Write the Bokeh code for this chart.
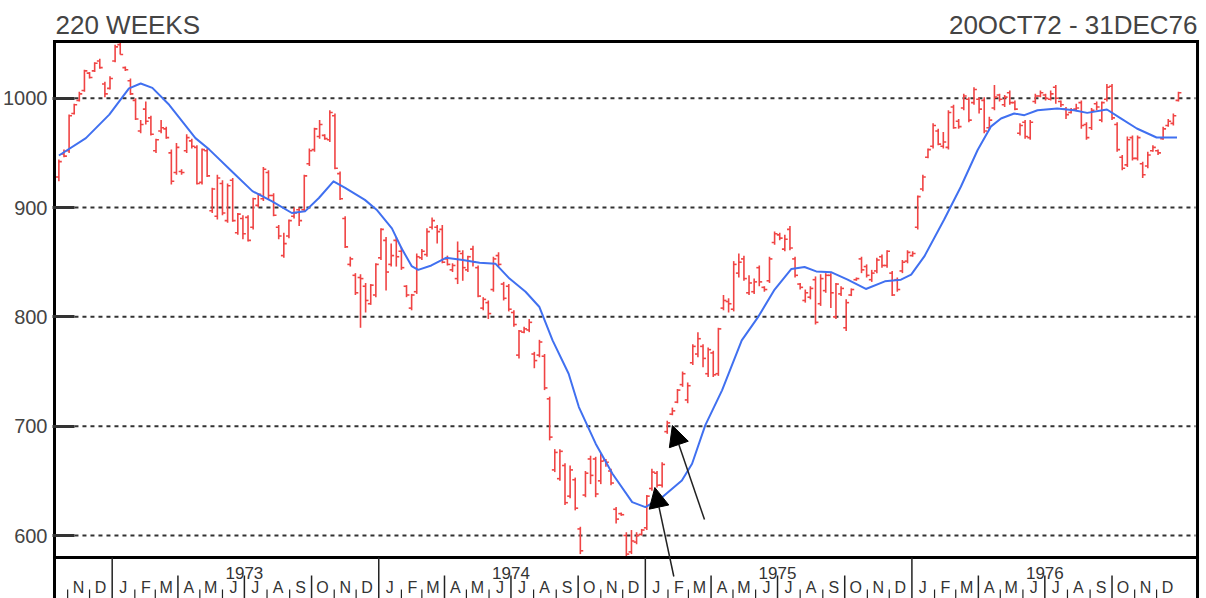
import pandas as pd
from bokeh.plotting import figure
from bokeh.models import (Range1d, Label, Arrow, NormalHead, FixedTicker,
                          ColumnDataSource)
from bokeh.core.properties import value
from bokeh.embed import file_html
from bokeh.resources import INLINE

# ---------------- data ----------------
week_start = "1972-10-20"

high = [
    944, 953, 985, 995, 1006, 1026, 1024, 1033, 1036, 1015,
    1020, 1049, 1051, 1029, 1018, 1000, 980, 997, 984, 963,
    980, 974, 953, 959, 935, 967, 963, 957, 954, 954,
    918, 930, 925, 922, 927, 895, 893, 893, 909, 913,
    937, 934, 913, 884, 877, 889, 900, 900, 930, 954,
    973, 980, 967, 989, 986, 933, 892, 855, 840, 839,
    831, 830, 849, 881, 873, 867, 873, 864, 829, 821,
    858, 862, 881, 891, 884, 884, 856, 849, 869, 861,
    856, 865, 847, 818, 815, 855, 859, 832, 830, 806,
    788, 791, 798, 768, 779, 766, 727, 679, 679, 666,
    664, 653, 608, 659, 673, 672, 675, 670, 661, 626,
    621, 603, 605, 603, 606, 637, 661, 659, 667, 705,
    717, 734, 750, 740, 775, 786, 775, 772, 769, 790,
    820, 817, 851, 858, 856, 838, 835, 847, 828, 855,
    878, 877, 875, 883, 855, 831, 825, 828, 837, 839,
    840, 840, 831, 828, 816, 826, 836, 855, 848, 843,
    854, 857, 861, 842, 836, 852, 861, 860, 911, 930,
    954, 977, 972, 969, 989, 994, 981, 1004, 1001, 1010,
    1001, 1001, 983, 1012, 1004, 1003, 1007, 998, 977, 980,
    980, 1004, 1007, 1004, 1007, 1012, 998, 992, 991, 995,
    998, 978, 991, 997, 997, 1013, 1013, 978, 948, 965,
    966, 966, 942, 951, 957, 953, 974, 981, 986, 1006]

low = [
    924, 946, 950, 985, 997, 1006, 1018, 1024, 1027, 1001,
    1008, 1033, 1040, 1025, 1003, 980, 968, 976, 966, 950,
    968, 963, 921, 930, 930, 950, 954, 921, 921, 928,
    895, 889, 893, 886, 887, 875, 871, 869, 880, 900,
    906, 907, 892, 871, 854, 872, 890, 883, 896, 938,
    951, 963, 962, 960, 935, 907, 863, 846, 820, 790,
    804, 811, 818, 852, 824, 846, 846, 843, 818, 806,
    821, 852, 855, 880, 867, 849, 847, 841, 830, 833,
    841, 846, 818, 806, 798, 823, 846, 815, 805, 791,
    762, 785, 786, 753, 763, 733, 687, 658, 650, 628,
    634, 623, 583, 635, 647, 635, 647, 663, 646, 611,
    618, 580, 583, 592, 600, 605, 641, 644, 644, 693,
    710, 721, 736, 721, 756, 763, 754, 745, 745, 746,
    806, 804, 805, 836, 833, 820, 821, 828, 823, 831,
    866, 870, 860, 861, 836, 825, 813, 816, 793, 810,
    822, 808, 798, 819, 787, 819, 833, 840, 836, 832,
    840, 845, 845, 819, 823, 840, 849, 855, 880, 915,
    945, 954, 957, 954, 953, 972, 972, 989, 978, 994,
    986, 968, 971, 989, 997, 992, 994, 989, 966, 963,
    962, 995, 1001, 998, 998, 995, 992, 981, 986, 988,
    972, 962, 971, 989, 978, 997, 980, 951, 934, 937,
    943, 943, 927, 936, 951, 948, 962, 974, 975, 997]

close = [
    942, 947, 984, 994, 1004, 1025, 1019, 1032, 1028, 1004,
    1018, 1047, 1040, 1026, 1004, 981, 976, 979, 967, 962,
    973, 964, 924, 955, 932, 964, 956, 922, 953, 929,
    917, 927, 895, 920, 888, 894, 876, 870, 908, 912,
    935, 911, 893, 874, 867, 888, 895, 888, 929, 952,
    972, 976, 963, 987, 936, 908, 864, 853, 822, 835,
    815, 829, 848, 880, 841, 856, 855, 845, 820, 820,
    855, 860, 878, 888, 878, 850, 848, 847, 860, 845,
    855, 850, 819, 816, 803, 853, 848, 817, 807, 793,
    787, 789, 795, 760, 777, 735, 690, 676, 677, 630,
    660, 625, 586, 657, 655, 638, 668, 667, 648, 615,
    619, 583, 595, 600, 605, 636, 658, 646, 665, 703,
    714, 733, 748, 737, 773, 780, 762, 770, 747, 789,
    815, 812, 848, 850, 835, 831, 832, 832, 825, 853,
    876, 872, 871, 863, 838, 827, 822, 826, 795, 835,
    838, 822, 830, 826, 813, 825, 835, 843, 838, 840,
    852, 847, 860, 820, 825, 850, 859, 858, 910, 928,
    953, 975, 958, 960, 987, 973, 974, 1002, 980, 1008,
    990, 970, 980, 1001, 999, 1001, 996, 990, 975, 965,
    978, 1002, 1005, 1000, 1004, 1000, 994, 985, 989, 991,
    975, 964, 989, 992, 996, 1010, 982, 953, 936, 962,
    945, 964, 930, 948, 955, 950, 972, 979, 984, 1005]

open_ = [
    928, 949, 952, 986, 998, 1007, 1023, 1025, 1034, 1013,
    1009, 1034, 1049, 1028, 1016, 998, 970, 990, 982, 952,
    970, 972, 950, 932, 933, 952, 961, 955, 923, 952,
    897, 892, 922, 888, 925, 877, 890, 891, 882, 902,
    908, 932, 911, 882, 856, 874, 892, 898, 898, 940,
    953, 965, 966, 962, 984, 931, 890, 848, 838, 836,
    828, 812, 820, 854, 870, 848, 870, 860, 828, 808,
    823, 854, 857, 882, 882, 880, 853, 843, 835, 858,
    843, 862, 845, 808, 813, 825, 856, 830, 828, 804,
    765, 786, 788, 766, 765, 764, 725, 660, 652, 664,
    636, 651, 606, 637, 670, 670, 650, 669, 659, 624,
    620, 600, 585, 594, 601, 607, 643, 657, 646, 695,
    711, 722, 738, 724, 758, 766, 773, 748, 767, 748,
    808, 814, 807, 840, 853, 822, 823, 845, 827, 833,
    868, 875, 862, 880, 853, 830, 815, 818, 834, 812,
    824, 838, 800, 821, 790, 820, 834, 853, 846, 834,
    842, 855, 847, 840, 834, 842, 851, 856, 882, 917,
    946, 956, 970, 956, 955, 992, 979, 991, 999, 996,
    999, 998, 973, 991, 1003, 994, 1005, 996, 968, 978,
    964, 997, 1002, 1003, 999, 1010, 997, 990, 987, 990,
    996, 976, 973, 995, 980, 999, 1011, 976, 946, 939,
    964, 945, 940, 938, 952, 952, 963, 975, 977, 998]

ma_dates = [
    "1972-10-20", "1972-11-26", "1972-12-28", "1973-01-24", "1973-02-09",
    "1973-02-25", "1973-03-20", "1973-04-25", "1973-05-14", "1973-06-14",
    "1973-07-12", "1973-08-08", "1973-09-04", "1973-09-22", "1973-10-11",
    "1973-10-31", "1973-11-16", "1973-12-13", "1973-12-29", "1974-01-19",
    "1974-02-01", "1974-02-15", "1974-02-24", "1974-03-14", "1974-04-03",
    "1974-04-26", "1974-05-19", "1974-06-10", "1974-06-29", "1974-07-21",
    "1974-08-09", "1974-08-27", "1974-09-18", "1974-10-02", "1974-10-25",
    "1974-11-17", "1974-12-14", "1975-01-01", "1975-01-24", "1975-02-20",
    "1975-03-06", "1975-03-24", "1975-04-16", "1975-05-13", "1975-06-05",
    "1975-06-27", "1975-07-20", "1975-08-07", "1975-08-23", "1975-09-13",
    "1975-10-05", "1975-10-30", "1975-11-25", "1975-12-17", "1975-12-31",
    "1976-01-18", "1976-02-14", "1976-03-08", "1976-03-31", "1976-04-18",
    "1976-05-02", "1976-05-20", "1976-06-03", "1976-06-21", "1976-07-18",
    "1976-08-10", "1976-08-28", "1976-09-24", "1976-10-13", "1976-11-04",
    "1976-12-01", "1976-12-29"]
ma_values = [
    947.6, 963.5, 985.0, 1009.0, 1013.5,
    1009.5, 994.0, 963.5, 953.0, 933.0,
    915.0, 905.6, 895.0, 896.5, 908.7,
    924.0, 918.0, 907.0, 898.0, 881.0,
    863.0, 846.5, 843.0, 847.0, 854.0,
    852.0, 849.5, 848.5, 835.0, 823.0,
    809.0, 778.5, 748.0, 717.5, 684.0,
    656.5, 630.5, 626.0, 635.0, 650.4,
    665.6, 700.7, 732.8, 778.5, 800.5,
    825.0, 843.8, 845.6, 841.6, 840.7,
    834.0, 825.5, 832.5, 834.0, 838.6,
    855.3, 888.8, 919.0, 952.6, 974.0,
    981.5, 986.0, 984.5, 989.0, 990.6,
    989.0, 986.6, 989.7, 981.5, 972.3,
    964.1, 964.1]

# arrows: (tail date, tail value, tip date, tip value)
arrow_tail_dates = ["1975-02-09", "1975-03-23"]
arrow_tail_values = [562.5, 614.6]
arrow_tip_dates = ["1975-01-14", "1975-02-07"]
arrow_tip_values = [643.9, 700.6]

y_ticks = [600, 700, 800, 900, 1000]
years = [1973, 1974, 1975, 1976]
month_letters = ["J", "F", "M", "A", "M", "J", "J", "A", "S", "O", "N", "D"]
axis_first_month = "1972-11-01"
axis_last_month = "1976-12-01"
header_left = "220 WEEKS"
header_right = "20OCT72 - 31DEC76"

# ---------------- layout (pixel geometry) ----------------
FONT = "'Liberation Sans Narrow', 'Arial Narrow', 'Liberation Sans', sans-serif"
RED = "#f04444"
BLUE = "#4070f0"
INK = "#222222"
W, H = 1206, 598
BL = 50                 # frame starts at page x=50, fills the rest
DAY = 86400000.0
PXD = 0.7316            # pixels per day
PXU = 1.0932            # pixels per index point
REF_Y, REF_PY = 600.0, 535.0   # index 600 sits at page y=535


def ms(d):
    return pd.Timestamp(d).value / 1e6


X0 = ms("1972-10-14") - (52 - BL) / PXD * DAY
X1 = X0 + (W - BL) / PXD * DAY
Y0 = REF_Y - (H - REF_PY) / PXU
Y1 = REF_Y + REF_PY / PXU


def px_x(px):
    return X0 + (px - BL) / PXD * DAY


def px_y(py):
    return REF_Y + (REF_PY - py) / PXU


LEFT, RIGHT = px_x(52), px_x(1197)
TOP, DIV = px_y(41), px_y(557)

p = figure(width=W, height=H, title=None,
           x_range=Range1d(X0, X1), y_range=Range1d(Y0, Y1),
           output_backend="svg", toolbar_location=None,
           x_axis_location=None,
           min_border_left=BL, min_border_right=0,
           min_border_top=0, min_border_bottom=0)
p.background_fill_color = "white"
p.border_fill_color = "white"
p.outline_line_color = None
p.xgrid.grid_line_color = None
p.ygrid.grid_line_color = None

# y axis (ticks and labels only; border drawn below)
ax = p.yaxis[0]
ax.ticker = FixedTicker(ticks=y_ticks)
ax.major_tick_in = 22
ax.major_tick_out = 0
ax.minor_tick_in = 0
ax.minor_tick_out = 0
ax.major_tick_line_width = 3
ax.major_tick_line_color = "#333333"
ax.minor_tick_line_color = None
ax.axis_line_color = None
ax.major_label_text_font = FONT
ax.major_label_text_font_size = "20px"
ax.major_label_text_color = "#444444"
ax.major_label_standoff = 5

# dotted grid at the tick values
p.segment(x0=[px_x(72)] * len(y_ticks), y0=y_ticks,
          x1=[px_x(1195)] * len(y_ticks), y1=y_ticks,
          line_color="#333333", line_width=2, line_dash="4 4")

# ---------------- bars ----------------
dates = pd.date_range(week_start, periods=len(close), freq="7D")
xs = [d.value / 1e6 for d in dates]
tick = 4 * DAY
src = ColumnDataSource(dict(
    x=xs, xl=[x - tick for x in xs], xr=[x + tick for x in xs],
    high=high, low=low, open=open_, close=close))
p.segment(x0="x", y0="low", x1="x", y1="high", source=src,
          line_color=RED, line_width=1.6)
p.segment(x0="xl", y0="open", x1="x", y1="open", source=src,
          line_color=RED, line_width=1.6)
p.segment(x0="x", y0="close", x1="xr", y1="close", source=src,
          line_color=RED, line_width=1.6)

# moving average
p.line(x=[ms(d) for d in ma_dates], y=ma_values, line_color=BLUE,
       line_width=2, line_join="round")

# ---------------- frame borders ----------------
p.segment(x0=[LEFT, RIGHT, LEFT, LEFT], y0=[Y0, Y0, TOP, DIV],
          x1=[LEFT, RIGHT, RIGHT, RIGHT], y1=[TOP, TOP, TOP, DIV],
          line_color="black", line_width=3, line_cap="square")

# ---------------- time strip ----------------
months = pd.date_range(axis_first_month, axis_last_month, freq="MS")
yl_x, q_x, t_x = [], [], []
for m in months:
    if m.month == 1:
        yl_x.append(ms(m))
    elif m.month in (4, 7, 10):
        q_x.append(ms(m))
    else:
        t_x.append(ms(m))
p.segment(x0=yl_x, y0=[DIV] * len(yl_x), x1=yl_x, y1=[Y0] * len(yl_x),
          line_color=INK, line_width=1.5)
p.segment(x0=q_x, y0=[px_y(575)] * len(q_x), x1=q_x, y1=[Y0] * len(q_x),
          line_color=INK, line_width=1.5)
p.segment(x0=t_x, y0=[px_y(589)] * len(t_x), x1=t_x, y1=[Y0] * len(t_x),
          line_color=INK, line_width=1.2)

letters_x = [ms(m) + 15 * DAY for m in months]
letters = [month_letters[m.month - 1] for m in months]
p.text(x=letters_x, y=[px_y(587)] * len(letters_x), text=letters,
       text_font=value(FONT), text_font_size="16px", text_color="#333333",
       text_align="center", text_baseline="middle")
p.text(x=[ms(f"{yr}-07-01") for yr in years],
       y=[px_y(572)] * len(years), text=[str(yr) for yr in years],
       text_font=value(FONT), text_font_size="17px", text_color="#333333",
       text_align="center", text_baseline="middle")

# ---------------- arrows ----------------
for xt, yt, xh, yh in zip(arrow_tail_dates, arrow_tail_values,
                          arrow_tip_dates, arrow_tip_values):
    p.add_layout(Arrow(end=NormalHead(size=20, fill_color="black",
                                      line_color="black", line_width=1),
                       x_start=ms(xt), y_start=yt, x_end=ms(xh), y_end=yh,
                       line_color=INK, line_width=1.5))

# ---------------- headers ----------------
p.add_layout(Label(x=px_x(53), y=px_y(24), text=header_left,
                   text_font=FONT, text_font_size="26px",
                   text_color="#444444", text_align="left",
                   text_baseline="middle"))
p.add_layout(Label(x=px_x(1197), y=px_y(24), text=header_right,
                   text_font=FONT, text_font_size="26px",
                   text_color="#444444", text_align="right",
                   text_baseline="middle"))

open("out.html", "w").write(file_html(p, INLINE))
